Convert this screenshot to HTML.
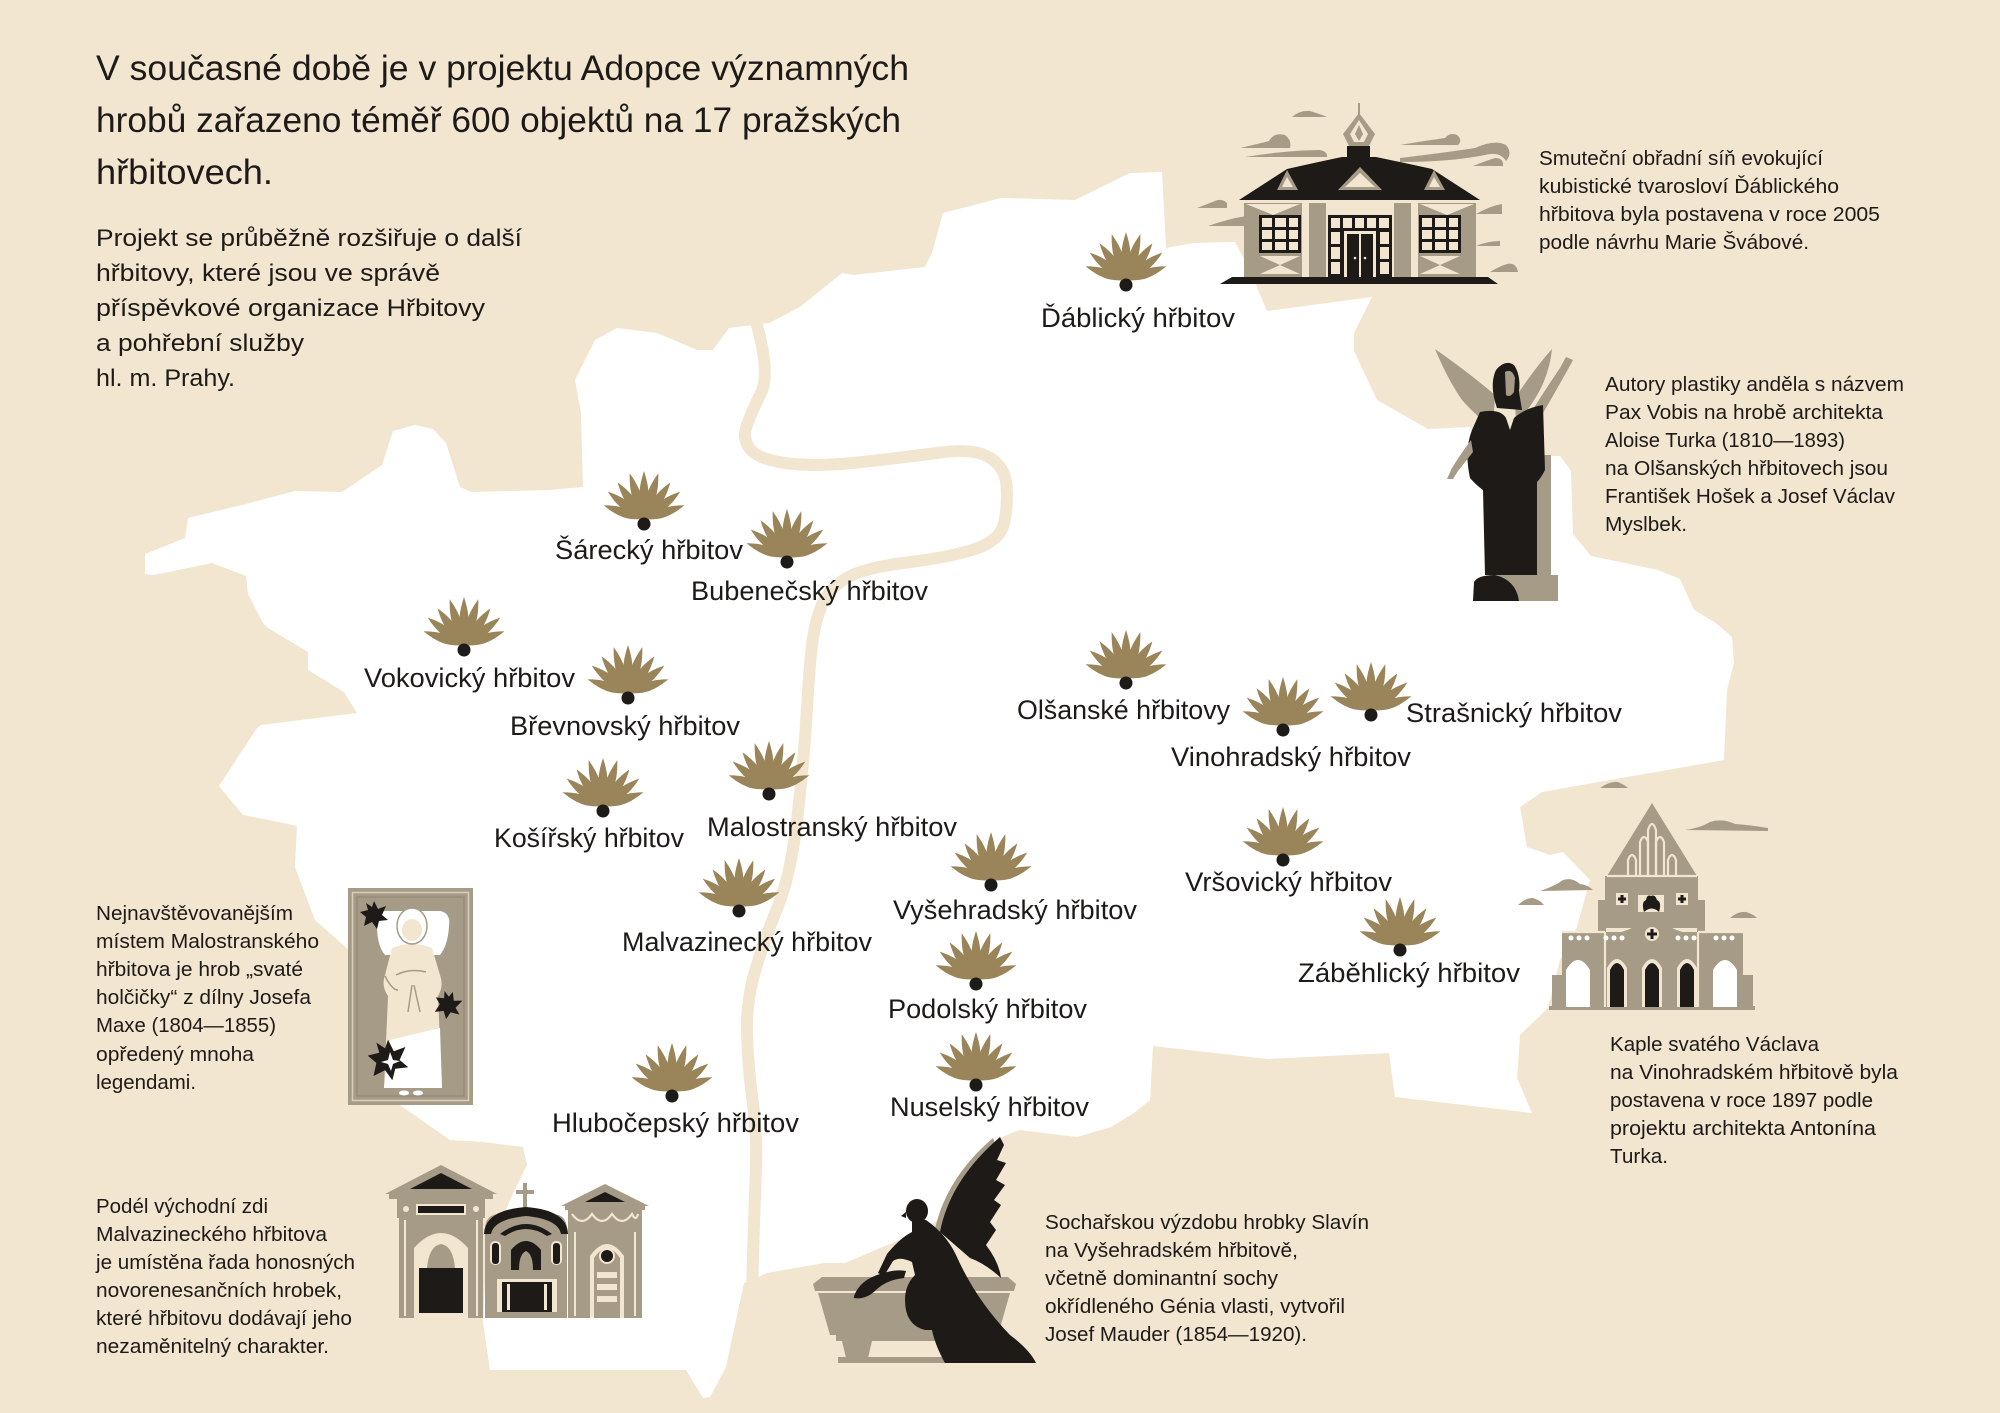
<!DOCTYPE html>
<html>
<head>
<meta charset="utf-8">
<style>
html,body{margin:0;padding:0;background:#f2e6d1;}
svg{display:block;}
text{font-family:"Liberation Sans",Arial,sans-serif;fill:#1d1a17;}
</style>
</head>
<body>
<svg xmlns="http://www.w3.org/2000/svg" width="2000" height="1413" viewBox="0 0 2000 1413">
<defs>
  <path id="leafL" d="M0,-4 C0.8,-10 4.6,-18 4.6,-28 C4.6,-38 2.2,-46 0,-53 C-2.2,-46 -4.6,-38 -4.6,-28 C-4.6,-18 -0.8,-10 0,-4Z"/>
  <path id="leafM" d="M0,-4 C0.8,-10 4.5,-17 4.5,-27 C4.5,-36 2.1,-44 0,-50 C-2.1,-44 -4.5,-36 -4.5,-27 C-4.5,-17 -0.8,-10 0,-4Z"/>
  <path id="leafS" d="M0,-4 C0.8,-10 4.4,-16 4.4,-25 C4.4,-34 2,-41 0,-47 C-2,-41 -4.4,-34 -4.4,-25 C-4.4,-16 -0.8,-10 0,-4Z"/>
  <g id="fan">
    <g fill="#9a8459">
      <use href="#leafS" transform="rotate(-70 0 -4)"/>
      <use href="#leafM" transform="rotate(-52 0 -4)"/>
      <use href="#leafM" transform="rotate(-35 0 -4)"/>
      <use href="#leafL" transform="rotate(-17 0 -4)"/>
      <use href="#leafL"/>
      <use href="#leafL" transform="rotate(17 0 -4)"/>
      <use href="#leafM" transform="rotate(35 0 -4)"/>
      <use href="#leafM" transform="rotate(52 0 -4)"/>
      <use href="#leafS" transform="rotate(70 0 -4)"/>
    </g>
    <ellipse cx="0" cy="0" rx="6.5" ry="6.5" fill="#1d1a17"/>
  </g>
  <path id="mleaf" d="M0,-14 L4,-6 L12,-9 L8,0 L14,5 L5,6 L3,14 L-2,7 L-10,11 L-8,2 L-14,-3 L-6,-5 L-8,-12 L-2,-8 Z" fill="#1d1a17"/>
</defs>

<!-- background -->
<rect x="0" y="0" width="2000" height="1413" fill="#f2e6d1"/>

<!-- map -->
<path fill="#ffffff" d="M145,554 L185,538 L188,518 L250,503 L295,491 L342,492 L382,465 L393,431 L415,425 L433,429 L446,443 L460,487 L471,492 L550,490 L583,487 L581,413 L575,380 L595,340 L617,328 L657,333 L697,350 L713,350 L729,328 L769,323 L800,307 L842,273 L854,275 L925,267 L932,253 L943,213 L1001,198 L1075,200 L1130,173 L1162,172 L1166,248 L1193,243 L1235,242 L1250,270 L1258,290 L1267,311 L1372,297 L1354,333 L1354,351 L1377,400 L1428,429 L1470,427 L1480,450 L1530,456 L1560,456 L1571,471 L1573,534 L1591,556 L1658,570 L1680,579 L1694,610 L1716,623 L1732,637 L1734,663 L1727,690 L1724,760 L1542,792 L1520,807 L1527,847 L1550,855 L1563,852 L1590,880 L1577,927 L1560,960 L1548,1008 L1520,1035 L1517,1078 L1532,1113 L1395,1097 L1389,1053 L1268,1059 L1153,1046 L1150,1100 L1134,1113 L1111,1127 L1077,1137 L1019,1130 L1002,1137 L968,1173 L939,1220 L899,1240 L845,1263 L824,1263 L767,1273 L744,1283 L726,1367 L710,1397 L703,1398 L686,1370 L549,1370 L490,1370 L483,1323 L486,1260 L510,1200 L527,1165 L523,1147 L483,1142 L450,1140 L397,1103 L350,1000 L350,951 L315,920 L295,867 L297,826 L279,822 L243,815 L219,786 L257,728 L261,725 L357,713 L344,692 L308,670 L308,652 L268,628 L263,623 L248,594 L246,576 L212,563 L154,575 L145,574 Z"/>

<!-- river -->
<path fill="none" stroke="#f2e6d1" stroke-width="12" stroke-linecap="round" stroke-linejoin="round" d="M755,318 Q771,373 761,393 Q751,413 746.5,426.5 Q742,440 751,450 Q760,460 789,463.5 Q818,467 862.5,462 Q907,457 940.5,452.5 Q974,448 989.5,457.5 Q1005,467 1006.5,485 Q1008,503 1004.5,521.5 Q1001,540 976.5,548.5 Q952,557 907,562.5 Q862,568 845,579 Q828,590 822,604.5 Q816,619 813,638 Q810,657 807,708 Q804,759 797.5,816.5 Q791,874 778,906 Q765,938 755.5,969.5 Q746,1001 747,1034 Q748,1067 752.5,1100 Q757,1133 756,1166.5 Q755,1200 753.5,1240 L752,1292"/>

<!-- ============ HOUSE (Ďáblice) ============ -->
<g fill="#a69b87">
  <path d="M1240,148 Q1262,143 1269,141 Q1274,132 1285,135 Q1292,140 1290,148 Z"/>
  <path d="M1245,157 Q1290,150 1320,150 Q1328,152 1327,157 Z"/>
  <path d="M1292,117 Q1300,110 1310,111 Q1320,114 1327,117 Z"/>
  <path d="M1400,145 Q1430,140 1445,138 Q1450,132 1457,135 Q1463,140 1458,145 Z"/>
  <path d="M1400,158 Q1450,152 1475,148 Q1495,139 1506,145 Q1513,153 1506,161 Q1500,151 1485,155 Q1450,162 1400,162 Z"/>
  <path d="M1473,166 Q1488,160 1495,158 Q1504,158 1503,166 Z"/>
  <path d="M1197,208 Q1210,203 1215,201 Q1222,198 1227,203 L1227,208 Z"/>
  <path d="M1208,226 Q1228,219 1246,216 L1246,226 Z"/>
  <path d="M1476,214 Q1490,206 1502,204 L1502,214 Z"/>
  <path d="M1476,246 Q1488,241 1500,241 L1500,246 Z"/>
  <path d="M1490,272 Q1500,266 1507,264 Q1516,262 1518,272 Z"/>
  <rect x="1358" y="103" width="2" height="14"/>
  <path d="M1359,113 L1375,134 L1369,146 L1349,146 L1343,134 Z"/>
</g>
<path d="M1359,120 L1368,134 L1364,142 L1354,142 L1350,134 Z" fill="#f2e6d1"/>
<path d="M1359,125 L1363,134 L1359,141 L1355,134 Z" fill="#a69b87"/>
<rect x="1347" y="146" width="23" height="11" fill="#1d1a17"/>
<path d="M1342,157 L1376,157 Q1400,162 1432,169 L1480,200 L1239,200 L1287,169 Q1318,162 1342,157Z" fill="#1d1a17"/>
<path d="M1287,170 L1277,190 L1298,190Z" fill="#a69b87"/>
<path d="M1287,177 L1282,187 L1293,187Z" fill="#f2e6d1"/>
<path d="M1360,167 L1338,190 L1382,190Z" fill="#a69b87"/>
<path d="M1360,173 L1345,187 L1375,187Z" fill="#f2e6d1"/>
<path d="M1434,170 L1424,190 L1445,190Z" fill="#a69b87"/>
<path d="M1434,177 L1429,187 L1440,187Z" fill="#f2e6d1"/>
<rect x="1242" y="200" width="236" height="3" fill="#f2e6d1"/>
<rect x="1244" y="203" width="232" height="75" fill="#a69b87"/>
<path d="M1246,204 L1300,204 L1273,215 Z" fill="#f2e6d1"/>
<path d="M1420,204 L1474,204 L1447,215 Z" fill="#f2e6d1"/>
<rect x="1302" y="203" width="7" height="75" fill="#f2e6d1"/>
<rect x="1411" y="203" width="7" height="75" fill="#f2e6d1"/>
<rect x="1326" y="203" width="68" height="75" fill="#f2e6d1"/>
<!-- windows -->
<g fill="#1d1a17">
  <rect x="1259" y="215" width="42" height="38"/>
  <rect x="1419" y="215" width="42" height="38"/>
  <rect x="1328" y="215" width="64" height="63"/>
</g>
<g fill="#f2e6d1">
  <rect x="1262" y="218" width="10" height="9"/><rect x="1275" y="218" width="11" height="9"/><rect x="1289" y="218" width="9" height="9"/>
  <rect x="1262" y="230" width="10" height="9"/><rect x="1275" y="230" width="11" height="9"/><rect x="1289" y="230" width="9" height="9"/>
  <rect x="1262" y="242" width="10" height="8"/><rect x="1275" y="242" width="11" height="8"/><rect x="1289" y="242" width="9" height="8"/>
  <rect x="1422" y="218" width="10" height="9"/><rect x="1435" y="218" width="11" height="9"/><rect x="1449" y="218" width="9" height="9"/>
  <rect x="1422" y="230" width="10" height="9"/><rect x="1435" y="230" width="11" height="9"/><rect x="1449" y="230" width="9" height="9"/>
  <rect x="1422" y="242" width="10" height="8"/><rect x="1435" y="242" width="11" height="8"/><rect x="1449" y="242" width="9" height="8"/>
  <rect x="1331" y="218" width="9" height="10"/><rect x="1343" y="218" width="9" height="10"/><rect x="1355" y="218" width="9" height="10"/><rect x="1367" y="218" width="9" height="10"/><rect x="1379" y="218" width="10" height="10"/>
  <rect x="1331" y="232" width="9" height="12"/><rect x="1331" y="247" width="9" height="12"/><rect x="1331" y="262" width="9" height="12"/>
  <rect x="1380" y="232" width="9" height="12"/><rect x="1380" y="247" width="9" height="12"/><rect x="1380" y="262" width="9" height="12"/>
  <rect x="1344" y="231" width="32" height="47"/>
  <path d="M1260,256 L1300,256 L1280,265 Z M1260,274 L1300,274 L1280,265Z"/>
  <path d="M1420,256 L1460,256 L1440,265 Z M1420,274 L1460,274 L1440,265Z"/>
</g>
<rect x="1347" y="234" width="26" height="44" fill="#1d1a17"/>
<rect x="1359" y="234" width="2" height="44" fill="#f2e6d1"/>
<circle cx="1355" cy="258" r="1.3" fill="#f2e6d1"/><circle cx="1365" cy="258" r="1.3" fill="#f2e6d1"/>
<path d="M1220,284 L1232,277 L1488,277 L1498,284 Z" fill="#1d1a17"/>

<!-- ============ ANGEL (Olšany) ============ -->
<path d="M1435,349 Q1468,372 1495,395 L1493,428 Q1478,418 1462,400 Q1448,380 1435,349Z" fill="#a69b87"/>
<path d="M1552,349 Q1535,368 1515,398 L1516,425 Q1532,405 1540,390 Q1550,370 1552,349Z" fill="#a69b87"/>
<path d="M1530,414 Q1545,390 1560,368 L1566,357 L1573,360 L1567,371 Q1553,396 1539,420Z" fill="#a69b87"/>
<rect x="1535" y="455" width="16" height="120" fill="#a69b87"/>
<path d="M1497,408 Q1489,385 1496,370 Q1505,359 1514,365 Q1521,375 1519,392 L1522,410 Z" fill="#1d1a17"/>
<path d="M1505,372 Q1512,368 1515,378 L1514,392 Q1510,398 1506,395 Z" fill="#a69b87"/>
<path d="M1480,412 Q1500,408 1506,418 L1510,430 L1514,418 Q1525,408 1543,405 L1545,470 Q1541,478 1537,482 L1537,575 L1485,575 L1483,490 Q1476,485 1470,478 Q1464,450 1472,430 Z" fill="#1d1a17"/>
<path d="M1471,440 Q1460,455 1452,468 L1447,479 L1453,479 L1458,471 Q1466,461 1473,452Z" fill="#a69b87"/>
<path d="M1473,601 L1475,585 Q1480,575 1500,575 L1558,575 L1558,601 Z" fill="#a69b87"/>
<path d="M1473,601 L1474,582 Q1478,575 1495,575 Q1516,580 1519,601Z" fill="#1d1a17"/>

<!-- ============ CHAPEL (Vinohrady) ============ -->
<g fill="#a69b87">
  <path d="M1600,788 Q1610,781 1618,782 Q1625,785 1628,788 Z"/>
  <path d="M1685,830 Q1700,828 1710,822 Q1722,818 1735,824 Q1750,825 1768,828 L1768,831 Z"/>
  <path d="M1540,891 Q1555,886 1563,880 Q1572,877 1580,884 Q1588,885 1593,890 Z"/>
  <path d="M1518,905 Q1525,898 1533,898 Q1540,900 1544,905 Z"/>
  <path d="M1730,918 Q1738,911 1746,912 Q1753,914 1757,918 Z"/>
  <path d="M1652,803 L1697,876 L1607,876 Z"/>
  <rect x="1605" y="876" width="93" height="52"/>
  <rect x="1598" y="900" width="8" height="36"/>
  <rect x="1697" y="900" width="8" height="36"/>
  <rect x="1562" y="932" width="181" height="76"/>
  <path d="M1605,935 Q1625,933 1637,925 Q1652,915 1667,925 Q1679,933 1698,935 Z"/>
  <rect x="1552" y="975" width="10" height="32"/>
  <rect x="1743" y="975" width="10" height="32"/>
  <rect x="1549" y="1006" width="206" height="4"/>
</g>
<g fill="none" stroke="#f2e6d1" stroke-width="2.2">
  <path d="M1628,876 L1628,860 Q1632,850 1636,860 L1636,876"/>
  <path d="M1640,876 L1640,842 Q1644,832 1648,842 L1648,876"/>
  <path d="M1648,876 L1648,830 Q1652,818 1656,830 L1656,876"/>
  <path d="M1656,876 L1656,842 Q1660,832 1664,842 L1664,876"/>
  <path d="M1668,876 L1668,860 Q1672,850 1676,860 L1676,876"/>
  <path d="M1607,876 L1697,876"/>
  <path d="M1562,932 L1605,932 M1698,932 L1743,932"/>
  <path d="M1605,932 L1605,1007 M1698,932 L1698,1007"/>
</g>
<rect x="1616" y="893" width="12" height="12" fill="#f2e6d1"/>
<rect x="1676" y="893" width="12" height="12" fill="#f2e6d1"/>
<path d="M1622,895 L1622,903 M1618,899 L1626,899 M1682,895 L1682,903 M1678,899 L1686,899" stroke="#1d1a17" stroke-width="3"/>
<rect x="1638" y="895" width="26" height="17" fill="#f2e6d1"/>
<path d="M1644,912 Q1641,902 1646,900 Q1647,894 1651,896 Q1655,894 1657,900 Q1662,902 1659,912 Q1652,905 1644,912Z" fill="#1d1a17"/>
<circle cx="1652" cy="934" r="7" fill="#f2e6d1"/>
<path d="M1652,929 L1652,939 M1647,934 L1657,934" stroke="#1d1a17" stroke-width="3"/>
<g fill="#ffffff">
  <circle cx="1571" cy="938" r="2.5"/><circle cx="1579" cy="938" r="2.5"/><circle cx="1587" cy="938" r="2.5"/>
  <circle cx="1606" cy="938" r="2.5"/><circle cx="1614" cy="938" r="2.5"/><circle cx="1622" cy="938" r="2.5"/>
  <circle cx="1678" cy="938" r="2.5"/><circle cx="1686" cy="938" r="2.5"/><circle cx="1694" cy="938" r="2.5"/>
  <circle cx="1716" cy="938" r="2.5"/><circle cx="1724" cy="938" r="2.5"/><circle cx="1732" cy="938" r="2.5"/>
  <path d="M1566,1007 L1566,970 Q1578,950 1590,970 L1590,1007 Z"/>
  <path d="M1713,1007 L1713,970 Q1725,950 1737,970 L1737,1007 Z"/>
</g>
<g fill="#f2e6d1">
  <path d="M1607,1007 L1607,968 Q1617,950 1627,968 L1627,1007 Z"/>
  <path d="M1642,1007 L1642,968 Q1652,950 1662,968 L1662,1007 Z"/>
  <path d="M1677,1007 L1677,968 Q1687,950 1697,968 L1697,1007 Z"/>
</g>
<g fill="#1d1a17">
  <path d="M1610,1007 L1610,970 Q1617,956 1624,970 L1624,1007 Z"/>
  <path d="M1645,1007 L1645,970 Q1652,956 1659,970 L1659,1007 Z"/>
  <path d="M1680,1007 L1680,970 Q1687,956 1694,970 L1694,1007 Z"/>
</g>

<!-- ============ GRAVE OF THE GIRL ============ -->
<rect x="348" y="888" width="125" height="217" fill="#a69b87"/>
<rect x="352.5" y="892.5" width="116" height="208" fill="none" stroke="#d9cfbd" stroke-width="1.5"/>
<rect x="357" y="897" width="107" height="199" fill="none" stroke="#8f8572" stroke-width="1"/>
<path d="M377,918 Q376,911 386,911 L440,911 Q451,913 449,926 Q448,945 440,955 L385,955 Q376,945 377,918Z" fill="#ffffff"/>
<path d="M392,948 Q412,940 432,948 L440,975 Q444,986 438,996 L442,1088 L384,1088 L388,996 Q381,986 385,975 Z" fill="#f2e6d1"/>
<path d="M390,1040 L440,1028 L442,1088 L384,1088 Z" fill="#ffffff"/>
<ellipse cx="412" cy="926" rx="15" ry="18" fill="#ffffff" stroke="#a69b87" stroke-width="1.5"/>
<ellipse cx="412" cy="930" rx="10" ry="11" fill="#f2e6d1"/>
<path d="M396,975 Q410,968 426,972 M412,985 L408,1012 M414,985 L420,1012 M385,976 Q392,990 398,990" stroke="#a69b87" stroke-width="1.5" fill="none"/>
<ellipse cx="404" cy="1093" rx="5" ry="2.5" fill="#ffffff"/><ellipse cx="418" cy="1093" rx="5" ry="2.5" fill="#ffffff"/>
<use href="#mleaf" transform="translate(374,915)"/>
<use href="#mleaf" transform="translate(448,1005) rotate(20)"/>
<use href="#mleaf" transform="translate(388,1060) scale(1.45)"/>
<path d="M390,1052 L393,1060 L400,1061 L393,1064 L391,1071 L388,1064 L381,1062 L388,1060Z" fill="#ffffff"/>

<!-- ============ TOMBS (Malvazinky) ============ -->
<path d="M385,1194 L441,1165 L497,1194 Z" fill="#a69b87"/>
<path d="M410,1189 L441,1173 L472,1189 Z" fill="#1d1a17"/>
<rect x="389" y="1194" width="104" height="5" fill="#a69b87"/>
<rect x="397" y="1199" width="88" height="19" fill="#a69b87"/>
<rect x="416" y="1204" width="50" height="11" fill="#f2e6d1"/>
<rect x="418" y="1206" width="46" height="7" fill="#1d1a17"/>
<circle cx="406" cy="1209" r="3" fill="#f2e6d1"/><circle cx="476" cy="1209" r="3" fill="#f2e6d1"/>
<rect x="399" y="1218" width="84" height="100" fill="#a69b87"/>
<rect x="404" y="1220" width="2" height="96" fill="#f2e6d1"/><rect x="476" y="1220" width="2" height="96" fill="#f2e6d1"/>
<path d="M414,1318 L414,1248 Q441,1218 468,1248 L468,1318 Z" fill="#f2e6d1"/>
<path d="M427,1268 Q429,1246 441,1244 Q453,1246 455,1268 Z" fill="#a69b87"/>
<rect x="419" y="1268" width="44" height="45" fill="#1d1a17"/>

<path d="M525,1183 L525,1209" stroke="#a69b87" stroke-width="4"/>
<path d="M516,1192 L534,1192" stroke="#a69b87" stroke-width="4"/>
<path d="M485,1318 L485,1228 Q486,1214 500,1214 L552,1214 Q566,1214 567,1228 L567,1318 Z" fill="#a69b87"/>
<path d="M484,1234 Q485,1210 526,1207 Q567,1210 568,1234 L561,1234 Q558,1219 526,1216 Q494,1219 491,1234 Z" fill="#1d1a17"/>
<path d="M500,1234 Q526,1214 552,1234 L547,1236 Q526,1222 505,1236Z" fill="#1d1a17"/>
<rect x="490" y="1241" width="11" height="24" rx="5" fill="#f2e6d1"/><rect x="492" y="1243" width="7" height="21" rx="3" fill="#1d1a17"/>
<rect x="551" y="1241" width="11" height="24" rx="5" fill="#f2e6d1"/><rect x="553" y="1243" width="7" height="21" rx="3" fill="#1d1a17"/>
<path d="M511,1270 L511,1250 Q526,1232 541,1250 L541,1270Z" fill="#1d1a17"/>
<path d="M519,1270 Q519,1254 526,1251 Q533,1254 533,1270Z" fill="#a69b87"/>
<rect x="497" y="1279" width="60" height="33" fill="#f2e6d1"/>
<rect x="502" y="1282" width="50" height="30" fill="#1d1a17"/>
<rect x="507" y="1284" width="3" height="26" fill="#f2e6d1"/><rect x="544" y="1284" width="3" height="26" fill="#f2e6d1"/>

<path d="M561,1206 L605,1184 L649,1206 Z" fill="#a69b87"/>
<path d="M585,1202 L605,1192 L625,1202Z" fill="#1d1a17"/>
<rect x="565" y="1206" width="80" height="4" fill="#a69b87"/>
<rect x="568" y="1210" width="74" height="108" fill="#a69b87"/>
<path d="M572,1214 Q582,1228 592,1214 Q602,1228 612,1214 Q622,1228 632,1214 Q636,1222 638,1214" stroke="#f2e6d1" stroke-width="2.2" fill="none"/>
<rect x="574" y="1232" width="2" height="84" fill="#f2e6d1"/><rect x="634" y="1232" width="2" height="84" fill="#f2e6d1"/>
<path d="M590,1318 L590,1256 Q607,1232 624,1256 L624,1318Z" fill="#f2e6d1"/>
<path d="M594,1318 L594,1258 Q607,1239 620,1258 L620,1318Z" fill="#a69b87"/>
<circle cx="607" cy="1256" r="8" fill="#f2e6d1"/><circle cx="607" cy="1256" r="6" fill="#1d1a17"/>
<rect x="597" y="1272" width="20" height="6" fill="#f2e6d1"/><rect x="597" y="1284" width="20" height="6" fill="#f2e6d1"/><rect x="597" y="1296" width="20" height="6" fill="#f2e6d1"/>

<!-- ============ SLAVÍN ============ -->
<path d="M813,1284 L822,1277 L1008,1277 L1016,1284 L1014,1291 L815,1291 Z" fill="#a69b87"/>
<path d="M818,1293 L1010,1293 L998,1335 L830,1335 Z" fill="#a69b87"/>
<rect x="836" y="1335" width="156" height="6" fill="#a69b87"/>
<path d="M842,1341 L872,1341 L868,1358 L846,1358 Z" fill="#a69b87"/>
<path d="M958,1341 L990,1341 L986,1358 L962,1358 Z" fill="#a69b87"/>
<rect x="838" y="1357" width="158" height="6" fill="#a69b87"/>
<path d="M934,1234 Q944,1180 993,1138 L996,1146 Q950,1190 942,1236Z" fill="#a69b87"/>
<path d="M940,1232 Q950,1180 1000,1137 L1004,1145 L997,1160 L1006,1163 L996,1180 L1005,1185 L994,1200 L1001,1205 L990,1222 L996,1230 L986,1245 Q999,1262 1001,1278 Q986,1264 970,1258 Z" fill="#1d1a17"/>
<ellipse cx="917" cy="1211" rx="11" ry="12" fill="#1d1a17"/>
<path d="M906,1212 L901,1216 L906,1218Z" fill="#1d1a17"/>
<path d="M912,1220 L926,1220 Q946,1234 956,1255 Q976,1300 1010,1335 Q1030,1350 1036,1363 L945,1363 Q935,1345 932,1330 L925,1330 Q905,1325 905,1300 Q905,1285 915,1275 L912,1262 Q900,1256 893,1261 L884,1276 L878,1273 L887,1254 Q900,1238 912,1232 Z" fill="#1d1a17"/>
<path d="M854,1296 Q860,1280 880,1274 Q895,1269 906,1271 L904,1278 Q886,1280 876,1290 Q866,1300 854,1298 Z" fill="#1d1a17"/>

<!-- ============ FANS ============ -->
<use href="#fan" x="1126" y="285"/>
<use href="#fan" x="644" y="524"/>
<use href="#fan" x="787" y="562"/>
<use href="#fan" x="464" y="650"/>
<use href="#fan" x="628" y="698"/>
<use href="#fan" x="603" y="811"/>
<use href="#fan" x="769" y="794"/>
<use href="#fan" x="739" y="911"/>
<use href="#fan" x="672" y="1096"/>
<use href="#fan" x="991" y="885"/>
<use href="#fan" x="976" y="984"/>
<use href="#fan" x="976" y="1085"/>
<use href="#fan" x="1126" y="683"/>
<use href="#fan" x="1283" y="730"/>
<use href="#fan" x="1371" y="715"/>
<use href="#fan" x="1283" y="860"/>
<use href="#fan" x="1400" y="950"/>

<!-- ============ LABELS ============ -->
<g font-size="27">
  <text x="1041" y="327" textLength="194" lengthAdjust="spacingAndGlyphs">Ďáblický hřbitov</text>
  <text x="555" y="559" textLength="188" lengthAdjust="spacingAndGlyphs">Šárecký hřbitov</text>
  <text x="691" y="600" textLength="237" lengthAdjust="spacingAndGlyphs">Bubenečský hřbitov</text>
  <text x="364" y="687" textLength="211" lengthAdjust="spacingAndGlyphs">Vokovický hřbitov</text>
  <text x="510" y="735" textLength="230" lengthAdjust="spacingAndGlyphs">Břevnovský hřbitov</text>
  <text x="494" y="847" textLength="190" lengthAdjust="spacingAndGlyphs">Košířský hřbitov</text>
  <text x="707" y="836" textLength="250" lengthAdjust="spacingAndGlyphs">Malostranský hřbitov</text>
  <text x="622" y="951" textLength="250" lengthAdjust="spacingAndGlyphs">Malvazinecký hřbitov</text>
  <text x="552" y="1132" textLength="247" lengthAdjust="spacingAndGlyphs">Hlubočepský hřbitov</text>
  <text x="893" y="919" textLength="244" lengthAdjust="spacingAndGlyphs">Vyšehradský hřbitov</text>
  <text x="888" y="1018" textLength="199" lengthAdjust="spacingAndGlyphs">Podolský hřbitov</text>
  <text x="890" y="1116" textLength="199" lengthAdjust="spacingAndGlyphs">Nuselský hřbitov</text>
  <text x="1017" y="719" textLength="213" lengthAdjust="spacingAndGlyphs">Olšanské hřbitovy</text>
  <text x="1406" y="722" textLength="216" lengthAdjust="spacingAndGlyphs">Strašnický hřbitov</text>
  <text x="1171" y="766" textLength="240" lengthAdjust="spacingAndGlyphs">Vinohradský hřbitov</text>
  <text x="1185" y="891" textLength="207" lengthAdjust="spacingAndGlyphs">Vršovický hřbitov</text>
  <text x="1298" y="982" textLength="222" lengthAdjust="spacingAndGlyphs">Záběhlický hřbitov</text>
</g>

<!-- ============ TEXT BLOCKS ============ -->
<g font-size="35">
  <text x="96" y="80" textLength="813" lengthAdjust="spacingAndGlyphs">V současné době je v projektu Adopce významných</text>
  <text x="96" y="132" textLength="805" lengthAdjust="spacingAndGlyphs">hrobů zařazeno téměř 600 objektů na 17 pražských</text>
  <text x="96" y="184" textLength="177" lengthAdjust="spacingAndGlyphs">hřbitovech.</text>
</g>
<g font-size="24">
  <text x="96" y="246" textLength="426" lengthAdjust="spacingAndGlyphs">Projekt se průběžně rozšiřuje o další</text>
  <text x="96" y="281" textLength="344" lengthAdjust="spacingAndGlyphs">hřbitovy, které jsou ve správě</text>
  <text x="96" y="316" textLength="389" lengthAdjust="spacingAndGlyphs">příspěvkové organizace Hřbitovy</text>
  <text x="96" y="351" textLength="208" lengthAdjust="spacingAndGlyphs">a pohřební služby</text>
  <text x="96" y="386" textLength="139" lengthAdjust="spacingAndGlyphs">hl. m. Prahy.</text>
</g>
<g font-size="20">
  <text x="1539" y="165" textLength="284" lengthAdjust="spacingAndGlyphs">Smuteční obřadní síň evokující</text>
  <text x="1539" y="193" textLength="300" lengthAdjust="spacingAndGlyphs">kubistické tvarosloví Ďáblického</text>
  <text x="1539" y="221" textLength="341" lengthAdjust="spacingAndGlyphs">hřbitova byla postavena v roce 2005</text>
  <text x="1539" y="249" textLength="270" lengthAdjust="spacingAndGlyphs">podle návrhu Marie Švábové.</text>

  <text x="1605" y="391" textLength="299" lengthAdjust="spacingAndGlyphs">Autory plastiky anděla s názvem</text>
  <text x="1605" y="419" textLength="278" lengthAdjust="spacingAndGlyphs">Pax Vobis na hrobě architekta</text>
  <text x="1605" y="447" textLength="240" lengthAdjust="spacingAndGlyphs">Aloise Turka (1810—1893)</text>
  <text x="1605" y="475" textLength="283" lengthAdjust="spacingAndGlyphs">na Olšanských hřbitovech jsou</text>
  <text x="1605" y="503" textLength="290" lengthAdjust="spacingAndGlyphs">František Hošek a Josef Václav</text>
  <text x="1605" y="531" textLength="82" lengthAdjust="spacingAndGlyphs">Myslbek.</text>

  <text x="1610" y="1051" textLength="209" lengthAdjust="spacingAndGlyphs">Kaple svatého Václava</text>
  <text x="1610" y="1079" textLength="288" lengthAdjust="spacingAndGlyphs">na Vinohradském hřbitově byla</text>
  <text x="1610" y="1107" textLength="263" lengthAdjust="spacingAndGlyphs">postavena v roce 1897 podle</text>
  <text x="1610" y="1135" textLength="266" lengthAdjust="spacingAndGlyphs">projektu architekta Antonína</text>
  <text x="1610" y="1163" textLength="58" lengthAdjust="spacingAndGlyphs">Turka.</text>

  <text x="1045" y="1229" textLength="324" lengthAdjust="spacingAndGlyphs">Sochařskou výzdobu hrobky Slavín</text>
  <text x="1045" y="1257" textLength="253" lengthAdjust="spacingAndGlyphs">na Vyšehradském hřbitově,</text>
  <text x="1045" y="1285" textLength="233" lengthAdjust="spacingAndGlyphs">včetně dominantní sochy</text>
  <text x="1045" y="1313" textLength="300" lengthAdjust="spacingAndGlyphs">okřídleného Génia vlasti, vytvořil</text>
  <text x="1045" y="1341" textLength="262" lengthAdjust="spacingAndGlyphs">Josef Mauder (1854—1920).</text>

  <text x="96" y="920" textLength="197" lengthAdjust="spacingAndGlyphs">Nejnavštěvovanějším</text>
  <text x="96" y="948" textLength="223" lengthAdjust="spacingAndGlyphs">místem Malostranského</text>
  <text x="96" y="976" textLength="207" lengthAdjust="spacingAndGlyphs">hřbitova je hrob „svaté</text>
  <text x="96" y="1004" textLength="215" lengthAdjust="spacingAndGlyphs">holčičky“ z dílny Josefa</text>
  <text x="96" y="1032" textLength="180" lengthAdjust="spacingAndGlyphs">Maxe (1804—1855)</text>
  <text x="96" y="1061" textLength="158" lengthAdjust="spacingAndGlyphs">opředený mnoha</text>
  <text x="96" y="1089" textLength="100" lengthAdjust="spacingAndGlyphs">legendami.</text>

  <text x="96" y="1213" textLength="172" lengthAdjust="spacingAndGlyphs">Podél východní zdi</text>
  <text x="96" y="1241" textLength="231" lengthAdjust="spacingAndGlyphs">Malvazineckého hřbitova</text>
  <text x="96" y="1269" textLength="259" lengthAdjust="spacingAndGlyphs">je umístěna řada honosných</text>
  <text x="96" y="1297" textLength="246" lengthAdjust="spacingAndGlyphs">novorenesančních hrobek,</text>
  <text x="96" y="1325" textLength="256" lengthAdjust="spacingAndGlyphs">které hřbitovu dodávají jeho</text>
  <text x="96" y="1353" textLength="233" lengthAdjust="spacingAndGlyphs">nezaměnitelný charakter.</text>
</g>
</svg>
</body>
</html>
